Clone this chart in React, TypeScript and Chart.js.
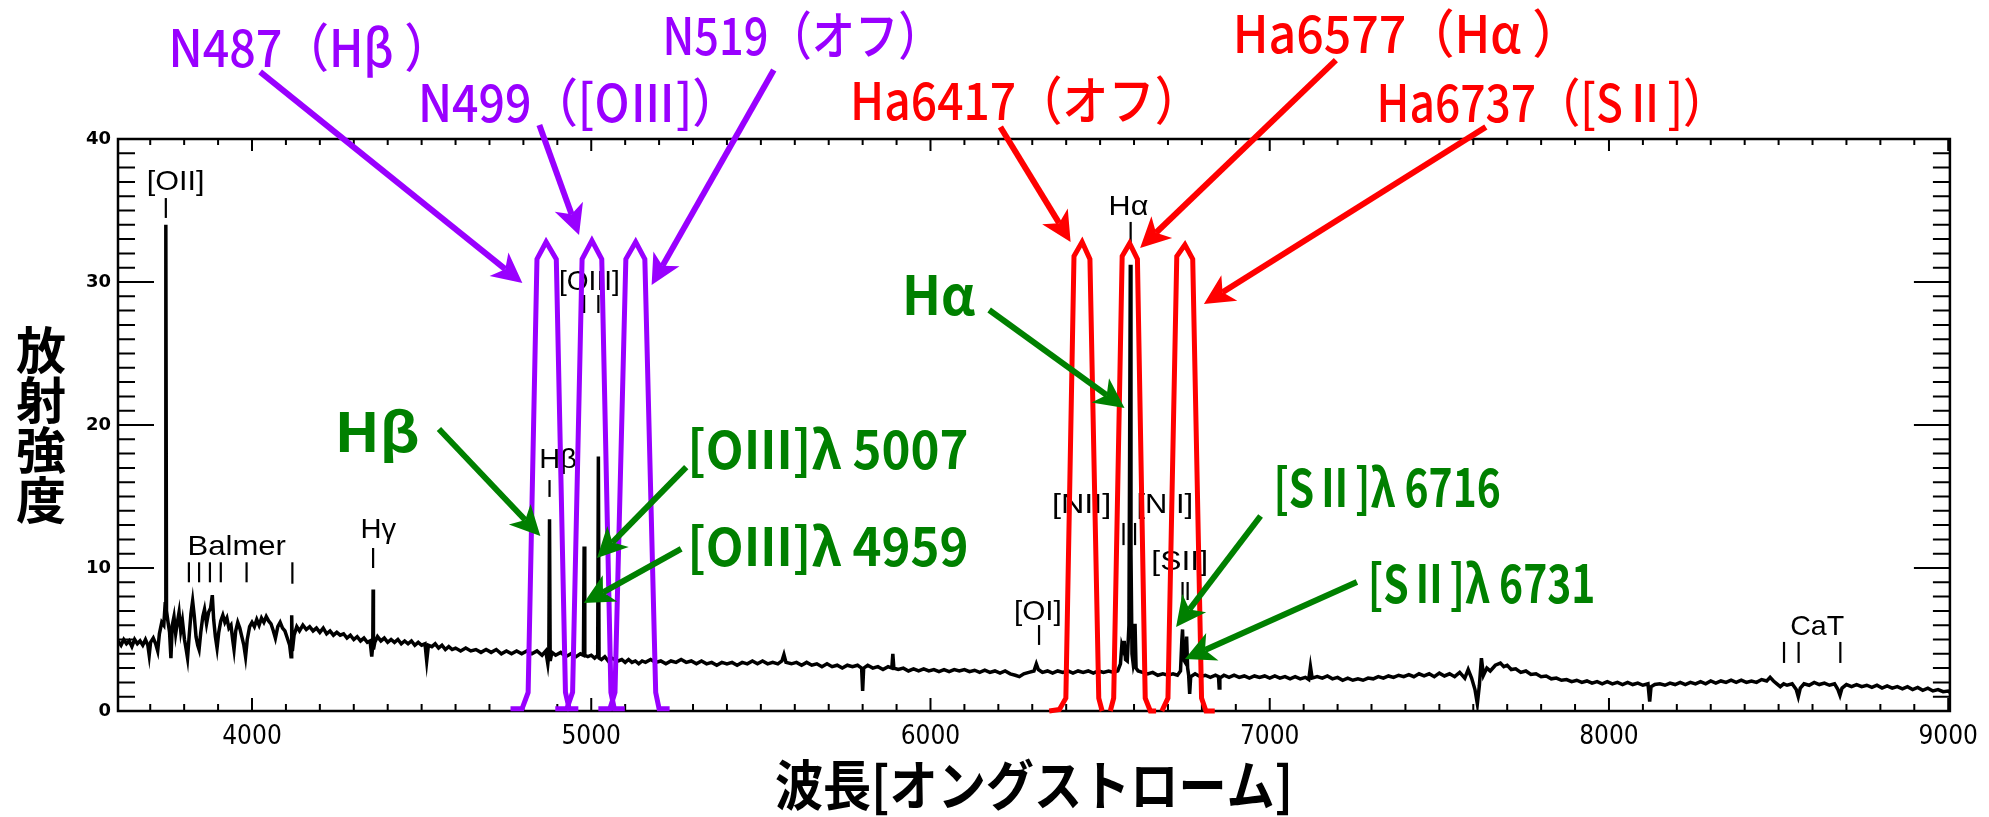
import { useEffect, useRef } from 'react';
import { Chart, registerables } from 'chart.js';
Chart.register(...registerables);

const W = 1989;
const H = 817;

// ---- axis ranges / ticks ----
const X_MIN = 3605;
const X_MAX = 9005;
const Y_MIN = 0;
const Y_MAX = 40;
const X_TICK_LABELS = [4000, 5000, 6000, 7000, 8000, 9000];
const Y_TICK_LABELS = [0, 10, 20, 30, 40];
const X_MAJOR_STEP = 1000;
const X_MINOR_STEP = 100;
const Y_MAJOR_STEP = 10;
const Y_MINOR_STEP = 1;

// ---- observed spectrum: [wavelength (Å), intensity] ----
const SPECTRUM: [number, number][] = [
  [3605,4.9],[3614,4.6],[3622,5.0],[3630,4.7],[3638,4.9],[3646,4.5],[3654,5.0],[3662,4.7],[3670,4.9],[3678,4.6],
  [3686,5.0],[3693,4.6],[3697,3.9],[3701,4.8],[3709,5.1],[3716,4.7],[3722,4.2],[3727,5.4],[3734,6.2],[3740,6.0],
  [3744,7.5],[3746,34.0],[3748,7.0],[3752,6.3],[3757,5.5],[3761,3.7],[3765,6.0],[3770,6.6],[3775,5.4],[3780,6.2],
  [3785,6.9],[3790,5.6],[3795,6.3],[3801,5.0],[3806,4.3],[3810,3.7],[3815,5.3],[3820,6.8],[3825,7.7],[3830,6.6],
  [3835,5.2],[3840,4.6],[3844,4.3],[3849,5.5],[3855,6.6],[3860,7.1],[3866,6.1],[3872,6.9],[3878,7.2],[3883,8.1],
  [3887,6.4],[3892,5.2],[3897,4.4],[3902,5.5],[3908,6.3],[3914,6.7],[3920,6.2],[3926,6.5],[3932,5.8],[3938,6.0],
  [3943,5.0],[3947,4.3],[3952,5.6],[3958,6.2],[3964,5.8],[3970,5.2],[3976,4.6],[3981,3.8],[3986,5.0],[3993,5.9],
  [4000,6.2],[4007,5.9],[4014,6.4],[4021,6.0],[4028,6.5],[4035,6.2],[4042,6.6],[4049,6.3],[4056,6.1],[4063,5.6],
  [4069,5.1],[4076,5.9],[4083,6.2],[4090,5.8],[4097,5.6],[4104,5.1],[4111,4.6],[4115,3.8],[4117,6.7],[4119,4.2],
  [4124,5.3],[4132,5.9],[4140,5.6],[4150,6.0],[4160,5.7],[4170,5.9],[4180,5.6],[4190,5.8],[4200,5.5],[4210,5.8],
  [4220,5.4],[4230,5.6],[4240,5.3],[4250,5.5],[4260,5.3],[4270,5.4],[4280,5.1],[4290,5.3],[4300,5.0],[4310,5.2],
  [4320,4.9],[4330,5.1],[4340,4.8],[4348,4.9],[4353,3.8],[4356,4.6],[4357,8.5],[4358,4.3],[4362,4.8],[4370,5.2],
  [4380,4.9],[4390,5.1],[4400,4.8],[4410,5.0],[4420,4.8],[4430,5.0],[4440,4.7],[4450,4.9],[4460,4.7],[4470,4.9],
  [4480,4.6],[4490,4.8],[4500,4.6],[4510,4.7],[4515,3.5],[4520,4.6],[4530,4.5],[4540,4.7],[4550,4.4],[4560,4.6],
  [4570,4.3],[4580,4.5],[4590,4.3],[4600,4.4],[4615,4.2],[4630,4.4],[4645,4.2],[4660,4.3],[4675,4.1],[4690,4.3],
  [4705,4.1],[4720,4.3],[4735,4.0],[4750,4.2],[4765,4.0],[4780,4.2],[4795,4.0],[4810,4.2],[4825,4.0],[4840,4.2],
  [4855,3.9],[4866,4.2],[4872,3.3],[4875,4.0],[4877,13.4],[4879,3.5],[4884,4.1],[4895,3.9],[4910,4.1],[4925,3.8],
  [4940,4.0],[4955,3.8],[4968,4.0],[4977,3.9],[4979,11.5],[4981,3.9],[4990,3.8],[5000,3.9],[5010,3.7],[5019,3.9],
  [5021,17.8],[5023,3.7],[5030,3.6],[5040,3.8],[5050,3.5],[5060,3.7],[5070,3.6],[5080,3.5],[5090,3.6],[5100,3.4],
  [5110,3.6],[5120,3.4],[5130,3.5],[5140,3.3],[5150,3.5],[5160,3.4],[5175,3.6],[5190,3.4],[5205,3.5],[5220,3.3],
  [5235,3.5],[5250,3.4],[5265,3.6],[5280,3.4],[5295,3.5],[5310,3.3],[5325,3.5],[5340,3.3],[5355,3.4],[5370,3.2],
  [5385,3.4],[5400,3.3],[5415,3.4],[5430,3.2],[5445,3.4],[5460,3.3],[5475,3.5],[5490,3.3],[5505,3.5],[5520,3.3],
  [5535,3.4],[5550,3.3],[5562,3.5],[5568,3.95],[5574,3.4],[5590,3.3],[5605,3.4],[5620,3.2],[5635,3.4],[5650,3.2],
  [5665,3.3],[5680,3.1],[5695,3.3],[5710,3.1],[5725,3.2],[5740,3.0],[5755,3.2],[5770,3.1],[5785,3.2],[5797,3.0],
  [5800,1.4],[5803,3.0],[5815,3.2],[5830,3.0],[5845,3.1],[5860,2.9],[5875,3.1],[5886,3.0],[5889,4.0],[5892,3.0],
  [5905,2.9],[5920,3.0],[5935,2.8],[5950,2.95],[5965,2.8],[5980,2.95],[5995,2.8],[6010,2.9],[6025,2.75],[6040,2.9],
  [6055,2.75],[6070,2.9],[6085,2.8],[6100,2.9],[6115,2.75],[6130,2.85],[6145,2.7],[6160,2.85],[6175,2.7],[6190,2.8],
  [6205,2.65],[6220,2.8],[6235,2.6],[6250,2.5],[6262,2.4],[6275,2.6],[6290,2.7],[6305,2.8],[6312,3.3],[6318,2.9],
  [6330,2.7],[6345,2.8],[6360,2.65],[6375,2.8],[6390,2.7],[6405,2.8],[6420,2.65],[6435,2.8],[6450,2.7],[6465,2.8],
  [6480,2.65],[6495,2.8],[6510,2.7],[6525,2.8],[6540,2.7],[6552,2.8],[6560,3.3],[6564,4.6],[6568,4.3],[6571,4.9],
  [6575,3.6],[6580,3.5],[6585,6.0],[6587,18.0],[6589,31.2],[6591,11.0],[6594,4.0],[6598,3.2],[6601,3.5],[6603,6.1],
  [6606,3.0],[6612,2.8],[6625,2.7],[6640,2.6],[6655,2.7],[6670,2.5],[6685,2.6],[6700,2.5],[6715,2.6],[6728,2.5],
  [6737,2.8],[6741,5.0],[6743,5.7],[6746,3.6],[6751,3.4],[6755,5.2],[6758,3.0],[6761,2.5],[6764,1.2],[6767,2.4],
  [6780,2.6],[6795,2.4],[6810,2.5],[6825,2.35],[6840,2.5],[6849,2.4],[6851,1.6],[6853,2.3],[6865,2.5],[6880,2.35],
  [6895,2.5],[6910,2.35],[6925,2.45],[6940,2.3],[6955,2.45],[6970,2.35],[6985,2.45],[7000,2.3],[7015,2.45],[7030,2.3],
  [7045,2.4],[7060,2.25],[7075,2.4],[7090,2.25],[7105,2.35],[7115,2.2],[7120,3.1],[7125,2.3],[7140,2.4],[7155,2.3],
  [7170,2.45],[7185,2.25],[7200,2.35],[7215,2.15],[7230,2.3],[7245,2.15],[7260,2.25],[7275,2.15],[7290,2.3],[7305,2.25],
  [7320,2.4],[7335,2.3],[7350,2.45],[7365,2.35],[7380,2.5],[7395,2.4],[7410,2.55],[7425,2.4],[7440,2.6],[7455,2.45],
  [7470,2.6],[7485,2.4],[7500,2.65],[7515,2.45],[7530,2.6],[7545,2.4],[7560,2.7],[7575,2.3],[7585,2.9],[7595,2.3],
  [7605,1.5],[7612,0.5],[7618,1.8],[7624,3.7],[7630,2.5],[7640,3.0],[7650,2.8],[7665,3.2],[7680,3.35],[7690,3.1],
  [7700,3.2],[7712,2.9],[7725,2.95],[7740,2.7],[7755,2.8],[7770,2.55],[7785,2.6],[7800,2.4],[7815,2.45],[7830,2.25],
  [7845,2.3],[7860,2.15],[7875,2.2],[7890,2.05],[7905,2.15],[7920,2.0],[7935,2.1],[7950,1.95],[7965,2.05],[7980,1.9],
  [7995,2.05],[8010,1.9],[8025,2.0],[8040,1.85],[8055,2.0],[8070,1.85],[8085,1.95],[8100,1.8],[8115,1.9],[8120,0.65],
  [8124,1.7],[8135,1.85],[8150,1.9],[8165,1.8],[8180,1.95],[8195,1.85],[8210,2.0],[8225,1.85],[8240,2.0],[8255,1.9],
  [8270,2.05],[8285,1.9],[8300,2.1],[8315,1.95],[8330,2.1],[8345,2.0],[8360,2.15],[8375,2.0],[8390,2.15],[8405,2.0],
  [8420,2.1],[8435,2.0],[8450,2.2],[8465,2.1],[8475,2.35],[8485,2.1],[8495,1.9],[8505,1.7],[8515,1.9],[8525,1.8],
  [8540,1.9],[8552,1.5],[8558,1.0],[8564,1.6],[8575,1.9],[8590,1.8],[8605,2.0],[8620,1.85],[8635,1.95],[8650,1.8],
  [8665,1.9],[8675,1.5],[8681,1.1],[8687,1.6],[8700,1.85],[8715,1.7],[8730,1.85],[8745,1.7],[8760,1.8],[8775,1.65],
  [8790,1.8],[8805,1.6],[8820,1.75],[8835,1.6],[8850,1.7],[8865,1.55],[8880,1.7],[8895,1.5],[8910,1.65],[8925,1.45],
  [8940,1.6],[8955,1.4],[8970,1.5],[8985,1.35],[9000,1.4],[9005,1.3],
];

// ---- filter transmission outlines: [wavelength, intensity-scale value] ----
const FILTER_N487: [number, number][] = [[4762,0.15],[4796,0.15],[4814,1.3],[4840,31.6],[4867,32.8],[4897,31.6],[4924,1.3],[4935,0.15],[4962,0.15]];
const FILTER_N499: [number, number][] = [[4894,0.15],[4928,0.15],[4945,1.3],[4973,31.6],[5002,32.9],[5031,31.6],[5058,1.3],[5068,0.15],[5099,0.15]];
const FILTER_N519: [number, number][] = [[5021,0.15],[5055,0.15],[5070,1.3],[5102,31.6],[5131,32.8],[5158,31.6],[5190,1.3],[5200,0.15],[5231,0.15]];
const FILTER_HA6417: [number, number][] = [[6350,0],[6380,0.1],[6399,0.9],[6423,31.8],[6447,32.8],[6470,31.6],[6496,0.9],[6506,0]];
const FILTER_HA6577: [number, number][] = [[6530,0],[6540,0.9],[6565,31.8],[6587,32.7],[6610,31.6],[6633,0.9],[6648,0],[6665,0]];
const FILTER_HA6737: [number, number][] = [[6682,0],[6700,0.9],[6726,31.8],[6750,32.6],[6773,31.6],[6799,0.9],[6812,0],[6838,0]];

const PURPLE = '#9900FF';
const RED = '#FF0000';
const GREEN = '#008000';

// ---- line identifications printed in the spectrum: text, λ from, λ to, baseline value ----
const LINE_LABELS: [string, number, number, number][] = [
  ['[OII]', 3690, 3860, 36.43],
  ['Balmer', 3810, 4100, 10.91],
  ['Hγ', 4320, 4425, 12.1],
  ['Hβ', 4847, 4958, 17.0],
  ['[OIII]', 4905, 5084, 29.44],
  ['Hα', 6525, 6642, 34.69],
  ['[NII]', 6358, 6533, 13.85],
  ['[NII]', 6607, 6774, 13.85],
  ['[SII]', 6651, 6818, 9.86],
  ['[OI]', 6246, 6387, 6.36],
  ['CaT', 8534, 8693, 5.31],
];
// marker ticks under identifications: λ, value top, value bottom
const LINE_MARKS: [number, number, number][] = [
  [3746, 35.87, 34.48],
  [3814, 10.4, 9.0], [3844, 10.4, 9.0], [3876, 10.4, 9.0], [3908, 10.4, 9.0], [3984, 10.4, 9.0], [4119, 10.4, 8.9],
  [4357, 11.4, 10.0],
  [4877, 16.15, 14.97],
  [4979, 29.09, 27.83], [5021, 29.09, 27.83],
  [6590, 34.2, 32.73],
  [6569, 13.15, 11.6], [6603, 13.15, 11.6],
  [6743, 9.02, 7.76], [6758, 9.02, 7.76],
  [6320, 6.01, 4.62],
  [8516, 4.83, 3.36], [8559, 4.83, 3.36], [8682, 4.83, 3.36],
];

// ---- annotation labels: text, λ left, λ right, baseline value, colour, font ----
const NOTE_LABELS: [string, number, number, number, string, string][] = [
  ['N487（Hβ ）', 3754, 4586, 45.03, PURPLE, '500 52px "Noto Sans CJK JP"'],
  ['N499（[OⅢ]）', 4489, 5435, 41.19, PURPLE, '500 52px "Noto Sans CJK JP"'],
  ['N519（オフ）', 5210, 6033, 45.87, PURPLE, '500 52px "Noto Sans CJK JP"'],
  ['Ha6417（オフ）', 5763, 6797, 41.3, RED, '500 52px "Noto Sans CJK JP"'],
  ['Ha6577（Hα ）', 6891, 7916, 46.0, RED, '500 52px "Noto Sans CJK JP"'],
  ['Ha6737（[SⅡ]）', 7315, 8349, 41.2, RED, '500 52px "Noto Sans CJK JP"'],
  ['Hβ', 4243, 4495, 18.11, GREEN, 'bold 54px "Noto Sans CJK JP"'],
  ['[OⅢ]λ 5007', 5283, 6112, 16.92, GREEN, 'bold 52px "Noto Sans CJK JP"'],
  ['[OⅢ]λ 4959', 5283, 6112, 10.14, GREEN, 'bold 52px "Noto Sans CJK JP"'],
  ['Hα', 5916, 6132, 27.69, GREEN, 'bold 54px "Noto Sans CJK JP"'],
  ['[SⅡ]λ 6716', 7011, 7681, 14.27, GREEN, 'bold 52px "Noto Sans CJK JP"'],
  ['[SⅡ]λ 6731', 7289, 7960, 7.55, GREEN, 'bold 52px "Noto Sans CJK JP"'],
];
// ---- arrows: λ from, value from, λ tip, value tip, colour ----
const ARROWS: [number, number, number, number, string][] = [
  [4024, 44.69, 4797, 29.93, PURPLE],
  [4847, 40.98, 4964, 33.29, PURPLE],
  [5538, 44.83, 5178, 29.79, PURPLE],
  [6206, 40.84, 6413, 32.8, RED],
  [7195, 45.52, 6618, 32.38, RED],
  [7637, 40.84, 6806, 28.46, RED],
  [4551, 19.72, 4850, 12.24, GREEN],
  [5280, 17.06, 5017, 10.7, GREEN],
  [5265, 11.33, 4978, 7.55, GREEN],
  [6173, 28.04, 6572, 21.19, GREEN],
  [6973, 13.64, 6724, 5.87, GREEN],
  [7257, 9.02, 6750, 3.64, GREEN],
];

const Y_TITLE = ['放', '射', '強', '度'];
const X_TITLE = '波長[オングストローム]';

function fitText(ctx: CanvasRenderingContext2D, text: string, x1: number, x2: number, base: number, font: string, color: string) {
  ctx.save();
  ctx.font = font;
  ctx.fillStyle = color;
  ctx.textAlign = 'left';
  ctx.textBaseline = 'alphabetic';
  const w = ctx.measureText(text).width || 1;
  ctx.translate(x1, base);
  ctx.scale((x2 - x1) / w, 1);
  ctx.fillText(text, 0, 0);
  ctx.restore();
}

function arrow(ctx: CanvasRenderingContext2D, x1: number, y1: number, x2: number, y2: number, color: string) {
  const dx = x2 - x1, dy = y2 - y1;
  const L = Math.hypot(dx, dy) || 1;
  const ux = dx / L, uy = dy / L;
  const head = 30, half = 15, notch = 22;
  const bx = x2 - ux * head, by = y2 - uy * head;
  ctx.save();
  ctx.strokeStyle = color;
  ctx.fillStyle = color;
  ctx.lineWidth = 6;
  ctx.lineCap = 'butt';
  ctx.beginPath();
  ctx.moveTo(x1, y1);
  ctx.lineTo(x2 - ux * notch, y2 - uy * notch);
  ctx.stroke();
  ctx.beginPath();
  ctx.moveTo(x2, y2);
  ctx.lineTo(bx - uy * half, by + ux * half);
  ctx.lineTo(x2 - ux * notch, y2 - uy * notch);
  ctx.lineTo(bx + uy * half, by - ux * half);
  ctx.closePath();
  ctx.fill();
  ctx.restore();
}

const framePlugin = {
  id: 'frameAndMarks',
  beforeDatasetsDraw(chart: any) {
    const { ctx, chartArea: a, scales } = chart;
    const xs = scales.x, ys = scales.y;
    ctx.save();
    ctx.strokeStyle = '#000';
    ctx.lineWidth = 2.5;
    ctx.strokeRect(a.left, a.top, a.right - a.left, a.bottom - a.top);
    ctx.lineWidth = 2;
    // inward y ticks on both sides
    for (let v = Y_MIN + Y_MINOR_STEP; v < Y_MAX; v += Y_MINOR_STEP) {
      const py = ys.getPixelForValue(v);
      const len = v % Y_MAJOR_STEP === 0 ? 36 : 17;
      ctx.beginPath();
      ctx.moveTo(a.left, py); ctx.lineTo(a.left + len, py);
      ctx.moveTo(a.right, py); ctx.lineTo(a.right - len, py);
      ctx.stroke();
    }
    // inward x ticks top and bottom
    const start = Math.ceil(X_MIN / X_MINOR_STEP) * X_MINOR_STEP;
    for (let v = start; v <= X_MAX; v += X_MINOR_STEP) {
      const px = xs.getPixelForValue(v);
      const major = v % X_MAJOR_STEP === 0;
      ctx.beginPath();
      ctx.moveTo(px, a.bottom); ctx.lineTo(px, a.bottom - (major ? 13 : 7));
      ctx.moveTo(px, a.top); ctx.lineTo(px, a.top + (major ? 12 : 6));
      ctx.stroke();
    }
    // line identifications
    for (const [t, l1, l2, v] of LINE_LABELS) {
      fitText(ctx, t, xs.getPixelForValue(l1), xs.getPixelForValue(l2), ys.getPixelForValue(v), '28px "Liberation Sans", Arial, sans-serif', '#000');
    }
    ctx.lineWidth = 2.2;
    for (const [l, v1, v2] of LINE_MARKS) {
      const px = xs.getPixelForValue(l);
      ctx.beginPath();
      ctx.moveTo(px, ys.getPixelForValue(v1));
      ctx.lineTo(px, ys.getPixelForValue(v2));
      ctx.stroke();
    }
    ctx.restore();
  },
  afterDatasetsDraw(chart: any) {
    const { ctx, chartArea: a, scales } = chart;
    const xs = scales.x, ys = scales.y;
    for (const [l1, v1, l2, v2, c] of ARROWS) {
      arrow(ctx, xs.getPixelForValue(l1), ys.getPixelForValue(v1), xs.getPixelForValue(l2), ys.getPixelForValue(v2), c);
    }
    for (const [t, l1, l2, v, c, f] of NOTE_LABELS) {
      fitText(ctx, t, xs.getPixelForValue(l1), xs.getPixelForValue(l2), ys.getPixelForValue(v), f, c);
    }
    // axis titles
    ctx.save();
    ctx.fillStyle = '#000';
    ctx.font = 'bold 50px "Noto Sans CJK JP"';
    ctx.textAlign = 'center';
    ctx.textBaseline = 'middle';
    const cy = (a.top + a.bottom) / 2;
    Y_TITLE.forEach((ch, i) => {
      ctx.fillText(ch, 41, cy + (i - 1.5) * 50);
    });
    ctx.restore();
    const cx = (a.left + a.right) / 2;
    fitText(ctx, X_TITLE, cx - 259, cx + 259, 806, 'bold 54px "Noto Sans CJK JP"', '#000');
  },
};

function toXY(arr: [number, number][]) {
  return arr.map(([x, y]) => ({ x, y }));
}

export default function App() {
  const ref = useRef<HTMLCanvasElement | null>(null);
  useEffect(() => {
    if (!ref.current) return;
    const filt = (d: [number, number][], c: string) => ({
      data: toXY(d),
      showLine: true,
      borderColor: c,
      borderWidth: 5,
      pointRadius: 0,
      tension: 0,
      fill: false,
      clip: false as any,
      borderJoinStyle: 'miter' as const,
    });
    const chart = new Chart(ref.current, {
      type: 'scatter',
      data: {
        datasets: [
          filt(FILTER_N487, PURPLE),
          filt(FILTER_N499, PURPLE),
          filt(FILTER_N519, PURPLE),
          filt(FILTER_HA6417, RED),
          filt(FILTER_HA6577, RED),
          filt(FILTER_HA6737, RED),
          {
            data: toXY(SPECTRUM),
            showLine: true,
            borderColor: '#000',
            borderWidth: 3.5,
            pointRadius: 0,
            tension: 0,
            fill: false,
          },
        ],
      },
      options: {
        animation: false,
        responsive: false,
        devicePixelRatio: 1,
        layout: { padding: { top: 139, right: 27, left: 0, bottom: 0 } },
        plugins: { legend: { display: false }, tooltip: { enabled: false } },
        scales: {
          x: {
            type: 'linear',
            min: X_MIN,
            max: X_MAX,
            afterFit: (s: any) => { s.height = 106; },
            afterBuildTicks: (s: any) => { s.ticks = X_TICK_LABELS.map((v) => ({ value: v })); },
            grid: { display: false, drawTicks: false },
            border: { display: false },
            ticks: {
              padding: 11,
              color: '#000',
              maxRotation: 0,
              autoSkip: false,
              font: { family: '"Liberation Sans Narrow", "DejaVu Sans Condensed", sans-serif', size: 26 },
              callback: (v: any) => String(v),
            },
          },
          y: {
            min: Y_MIN,
            max: Y_MAX,
            afterFit: (s: any) => { s.width = 118; },
            afterBuildTicks: (s: any) => { s.ticks = Y_TICK_LABELS.map((v) => ({ value: v })); },
            grid: { display: false, drawTicks: false },
            border: { display: false },
            ticks: {
              padding: 7,
              color: '#000',
              font: { family: '"DejaVu Sans", sans-serif', size: 18, weight: 'bold' },
              callback: (v: any) => String(v),
            },
          },
        },
      },
      plugins: [framePlugin],
    } as any);
    return () => chart.destroy();
  }, []);
  return (
    <div style={{ position: 'fixed', left: 0, top: 0, width: W, height: H, background: '#fff' }}>
      <canvas ref={ref} width={W} height={H} style={{ width: W, height: H, display: 'block' }} />
    </div>
  );
}
